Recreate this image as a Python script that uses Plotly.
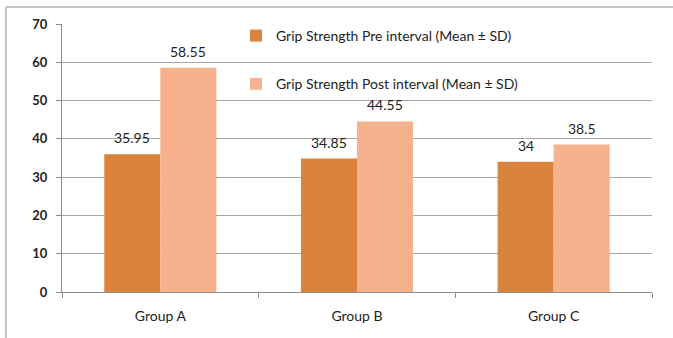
import plotly.graph_objects as go

groups = ["Group A", "Group B", "Group C"]
pre_values = [35.95, 34.85, 34]
post_values = [58.55, 44.55, 38.5]
pre_labels = ["35.95", "34.85", "34"]
post_labels = ["58.55", "44.55", "38.5"]
series_names = [
    "Grip Strength Pre interval (Mean ± SD)",
    "Grip Strength Post interval (Mean ± SD)",
]

PRE_COLOR = "#DA833C"
POST_COLOR = "#F6B28D"
TEXT_COLOR = "#1E1E1E"
GRID_COLOR = "#A6A6A6"
FONT = "Lato, Calibri, Carlito, sans-serif"

W, H = 673, 338
ML, MR, MT, MB = 62, 21, 24, 46
BARGAP = 0.43

fig = go.Figure()
fig.add_trace(go.Bar(x=groups, y=pre_values, name=series_names[0],
                     marker=dict(color=PRE_COLOR, line=dict(width=0)),
                     legendgroup="pre"))
fig.add_trace(go.Bar(x=groups, y=post_values, name=series_names[1],
                     marker=dict(color=POST_COLOR, line=dict(width=0)),
                     legendgroup="post"))

# value labels above each bar
half = (1 - BARGAP) / 4
annotations = []
for i, g in enumerate(groups):
    for offs, val, lab in ((-half, pre_values[i], pre_labels[i]),
                           (half, post_values[i], post_labels[i])):
        annotations.append(dict(
            x=i + offs, y=val, xref="x", yref="y", text=lab,
            showarrow=False, yanchor="bottom", yshift=6,
            font=dict(family=FONT, size=14, color=TEXT_COLOR)))

pw = W - ML - MR
ph = H - MT - MB
fx = lambda px: (px - ML) / pw
fy = lambda py: (H - MB - py) / ph

# outer frame lines (left and top)
shapes = [
    dict(type="line", xref="paper", yref="paper",
         x0=fx(6), x1=fx(6), y0=fy(H + 5), y1=fy(7),
         line=dict(color="#8C8C8C", width=1)),
    dict(type="line", xref="paper", yref="paper",
         x0=fx(6), x1=fx(W + 5), y0=fy(7), y1=fy(7),
         line=dict(color="#8C8C8C", width=1)),
]

fig.update_layout(
    width=W, height=H,
    margin=dict(l=ML, r=MR, t=MT, b=MB),
    paper_bgcolor="white", plot_bgcolor="white",
    barmode="group", bargap=BARGAP, bargroupgap=0,
    font=dict(family=FONT, color=TEXT_COLOR),
    annotations=annotations,
    shapes=shapes,
    legend=dict(
        x=fx(236), y=fy(20), xanchor="left", yanchor="top",
        bgcolor="rgba(0,0,0,0)", traceorder="grouped",
        tracegroupgap=27, itemwidth=30,
        font=dict(family=FONT, size=14, color=TEXT_COLOR),
    ),
)

fig.update_xaxes(
    type="category", showline=True, linecolor="#8C8C8C", linewidth=1,
    ticks="outside", tickson="boundaries", ticklen=5, tickcolor="#8C8C8C",
    tickfont=dict(family=FONT, size=14, color=TEXT_COLOR),
    ticklabelstandoff=11, showgrid=False,
)
fig.update_yaxes(
    range=[0, 70], dtick=10, showline=True, linecolor="#8C8C8C", linewidth=1,
    ticks="outside", ticklen=5, tickcolor="#8C8C8C",
    showgrid=True, gridcolor=GRID_COLOR, gridwidth=1, zeroline=False,
    tickfont=dict(family=FONT, size=13, color=TEXT_COLOR, weight="bold"),
    ticklabelstandoff=6,
)

fig.write_html("out.html")
